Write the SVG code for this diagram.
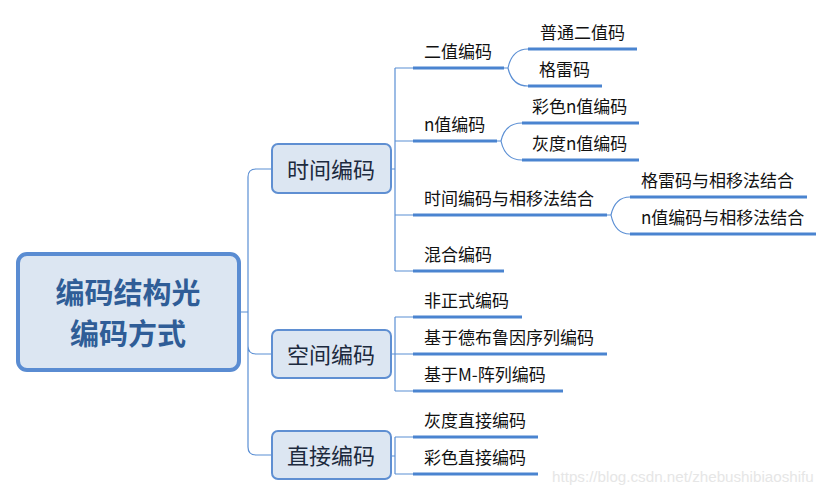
<svg xmlns="http://www.w3.org/2000/svg" width="834" height="496" viewBox="0 0 834 496">
<style>
.thin{fill:none;stroke:#5b8fd4;stroke-width:1.2}
.ul{fill:none;stroke:#4a84d0;stroke-width:3}
.box{fill:#dce6f2;stroke:#5f8fd2;stroke-width:2}
.root{fill:#dce6f2;stroke:#5a8cd2;stroke-width:4}
.t{font-family:"Noto Sans CJK SC","Microsoft YaHei",sans-serif;font-size:17px;fill:#111}
.n{font-family:"Noto Sans CJK SC","Microsoft YaHei",sans-serif;font-size:22px;fill:#1c2a3e;text-anchor:middle}
.r{font-family:"Noto Sans CJK SC","Microsoft YaHei",sans-serif;font-size:29px;font-weight:bold;fill:#2f5d97;text-anchor:middle}
</style>
<rect width="834" height="496" fill="#fff"/>
<g id="connectors">
<path class="thin" d="M239,312 H248 M272,169 H256 Q248,169 248,177 V447 Q248,455 256,455 H272 M248,346 Q248,354 256,354 H272"/>
<path class="thin" d="M391,169 H395 M395,68 V271 M395,68 H413 M395,141 H413 M395,215 H413 M395,271 H413"/>
<path class="thin" d="M391,354 H395 M395,317 V391 M395,317 H413 M395,354 H413 M395,391 H413"/>
<path class="thin" d="M391,456 H395 M395,437 V474 M395,437 H413 M395,474 H413"/>
<path class="thin" d="M504,68 H508 Q512,49 528,49 M508,68 Q512,86 528,86"/>
<path class="thin" d="M497,141 H501 Q505,123 522,123 M501,141 Q505,160 522,160"/>
<path class="thin" d="M607,215 H611 Q615,197 630,197 M611,215 Q615,234 630,234"/>
</g>
<g id="root">
<rect class="root" x="18" y="254" width="221" height="116" rx="9"/>
<text class="r" x="128" y="304">编码结构光</text>
<text class="r" x="128" y="345">编码方式</text>
</g>
<g id="n-time">
<rect class="box" x="272" y="144" width="119" height="49" rx="6"/>
<text class="n" x="331" y="178">时间编码</text>
</g>
<g id="n-space">
<rect class="box" x="272" y="330" width="119" height="48" rx="6"/>
<text class="n" x="331" y="363">空间编码</text>
</g>
<g id="n-direct">
<rect class="box" x="272" y="431" width="119" height="48" rx="6"/>
<text class="n" x="331" y="464">直接编码</text>
</g>
<g id="b-binary"><path class="ul" d="M413,68 H504"/><text class="t" x="424" y="58">二值编码</text></g>
<g id="b-normal"><path class="ul" d="M528,49 H637"/><text class="t" x="540" y="39">普通二值码</text></g>
<g id="b-gray"><path class="ul" d="M528,86 H602"/><text class="t" x="539" y="76">格雷码</text></g>
<g id="b-nval"><path class="ul" d="M413,141 H497"/><text class="t" x="424" y="131">n值编码</text></g>
<g id="b-color-n"><path class="ul" d="M522,123 H639"/><text class="t" x="532" y="113">彩色n值编码</text></g>
<g id="b-gray-n"><path class="ul" d="M522,160 H639"/><text class="t" x="532" y="150">灰度n值编码</text></g>
<g id="b-phase"><path class="ul" d="M413,215 H607"/><text class="t" x="424" y="205">时间编码与相移法结合</text></g>
<g id="b-gray-phase"><path class="ul" d="M630,197 H807"/><text class="t" x="641" y="187">格雷码与相移法结合</text></g>
<g id="b-n-phase"><path class="ul" d="M630,234 H816"/><text class="t" x="641" y="224">n值编码与相移法结合</text></g>
<g id="b-mixed"><path class="ul" d="M413,271 H504"/><text class="t" x="424" y="261">混合编码</text></g>
<g id="b-informal"><path class="ul" d="M413,317 H522"/><text class="t" x="424" y="307">非正式编码</text></g>
<g id="b-debruijn"><path class="ul" d="M413,354 H607"/><text class="t" x="424" y="344">基于德布鲁因序列编码</text></g>
<g id="b-marray"><path class="ul" d="M413,391 H563"/><text class="t" x="424" y="381">基于M-阵列编码</text></g>
<g id="b-gray-direct"><path class="ul" d="M413,437 H538"/><text class="t" x="424" y="427">灰度直接编码</text></g>
<g id="b-color-direct"><path class="ul" d="M413,474 H538"/><text class="t" x="424" y="464">彩色直接编码</text></g>
<text x="552" y="482" font-family="Liberation Sans, Arial, sans-serif" font-size="15.2" fill="#e6e6e6">https://blog.csdn.net/zhebushibiaoshifu</text>
</svg>
